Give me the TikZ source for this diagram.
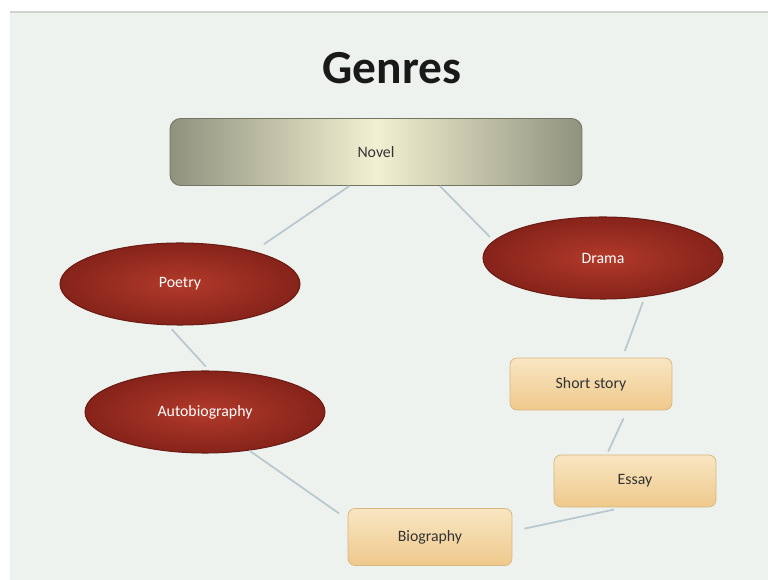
\documentclass[tikz,border=0pt]{standalone}
\usepackage{fontspec}
\setmainfont{Carlito}
\usetikzlibrary{shapes.geometric}

\definecolor{slide}{HTML}{EEF2EE}
\definecolor{redin}{HTML}{B23A2B}
\definecolor{redout}{HTML}{86231A}
\definecolor{olive}{HTML}{8F927D}
\definecolor{paleyel}{HTML}{F1F0D2}
\definecolor{peachtop}{HTML}{F8E6C2}
\definecolor{peachbot}{HTML}{EFC98C}
\definecolor{link}{HTML}{B9C8CF}

\begin{document}
\begin{tikzpicture}[x=0.02cm, y=-0.02cm,
  genre/.style={ellipse, inner color=redin, outer color=redout,
    draw=redout!80!black, line width=0.6pt,
    minimum width=4.8cm, minimum height=1.64cm,
    text=white, font=\fontsize{9}{10}\selectfont},
  kind/.style={rectangle, rounded corners=4pt, top color=peachtop,
    bottom color=peachbot, draw=peachbot!90!black, line width=0.4pt,
    minimum width=3.24cm, minimum height=1.04cm,
    text=black!80, font=\fontsize{9}{10}\selectfont},
  link/.style={draw=link, line width=1pt}]

  \useasboundingbox (0,0) rectangle (768,580);
  \fill[white] (0,0) rectangle (768,580);
  \fill[slide] (10,12) rectangle (768,580);
  \draw[gray!35, line width=1.2pt] (10,12) -- (768,12);

  \node[font=\fontsize{27}{30}\selectfont\bfseries, text=black!90] (title) at (392,68) {Genres};

  %% top bar
  \node[rectangle, rounded corners=6pt, left color=olive, right color=olive,
    middle color=paleyel, draw=olive!80!black, line width=0.5pt,
    minimum width=8.24cm, minimum height=1.34cm,
    font=\fontsize{9}{10}\selectfont, text=black!80] (nov) at (376,152) {Novel};

  \node[genre] (poe) at (180,284) {Poetry};
  \node[genre] (dra) at (603,258) {Drama};
  \node[genre] (aut) at (205,412) {Autobiography};

  \node[kind] (sho) at (591,384) {Short story};
  \node[kind] (ess) at (635,481) {Essay};
  \node[kind, minimum width=3.28cm, minimum height=1.14cm] (bio) at (430,537) {Biography};

  %% links
  \draw[link, shorten >=7pt] (nov.-128) -- (poe.24);
  \draw[link, shorten >=3pt] (nov.-28) -- (dra.171);
  \draw[link, shorten <=3pt, shorten >=3pt] (poe.-106) -- (aut.84);
  \draw[link, shorten >=6pt] (aut.-41) -- (bio.168);
  \draw[link, shorten <=3pt, shorten >=4pt] (dra.-43) -- (sho.40);
  \draw[link, shorten <=5pt, shorten >=2pt] (sho.-36) -- (ess.137);
  \draw[link, shorten <=6pt, shorten >=7pt] (ess.-112) -- (bio.4);
\end{tikzpicture}
\end{document}
